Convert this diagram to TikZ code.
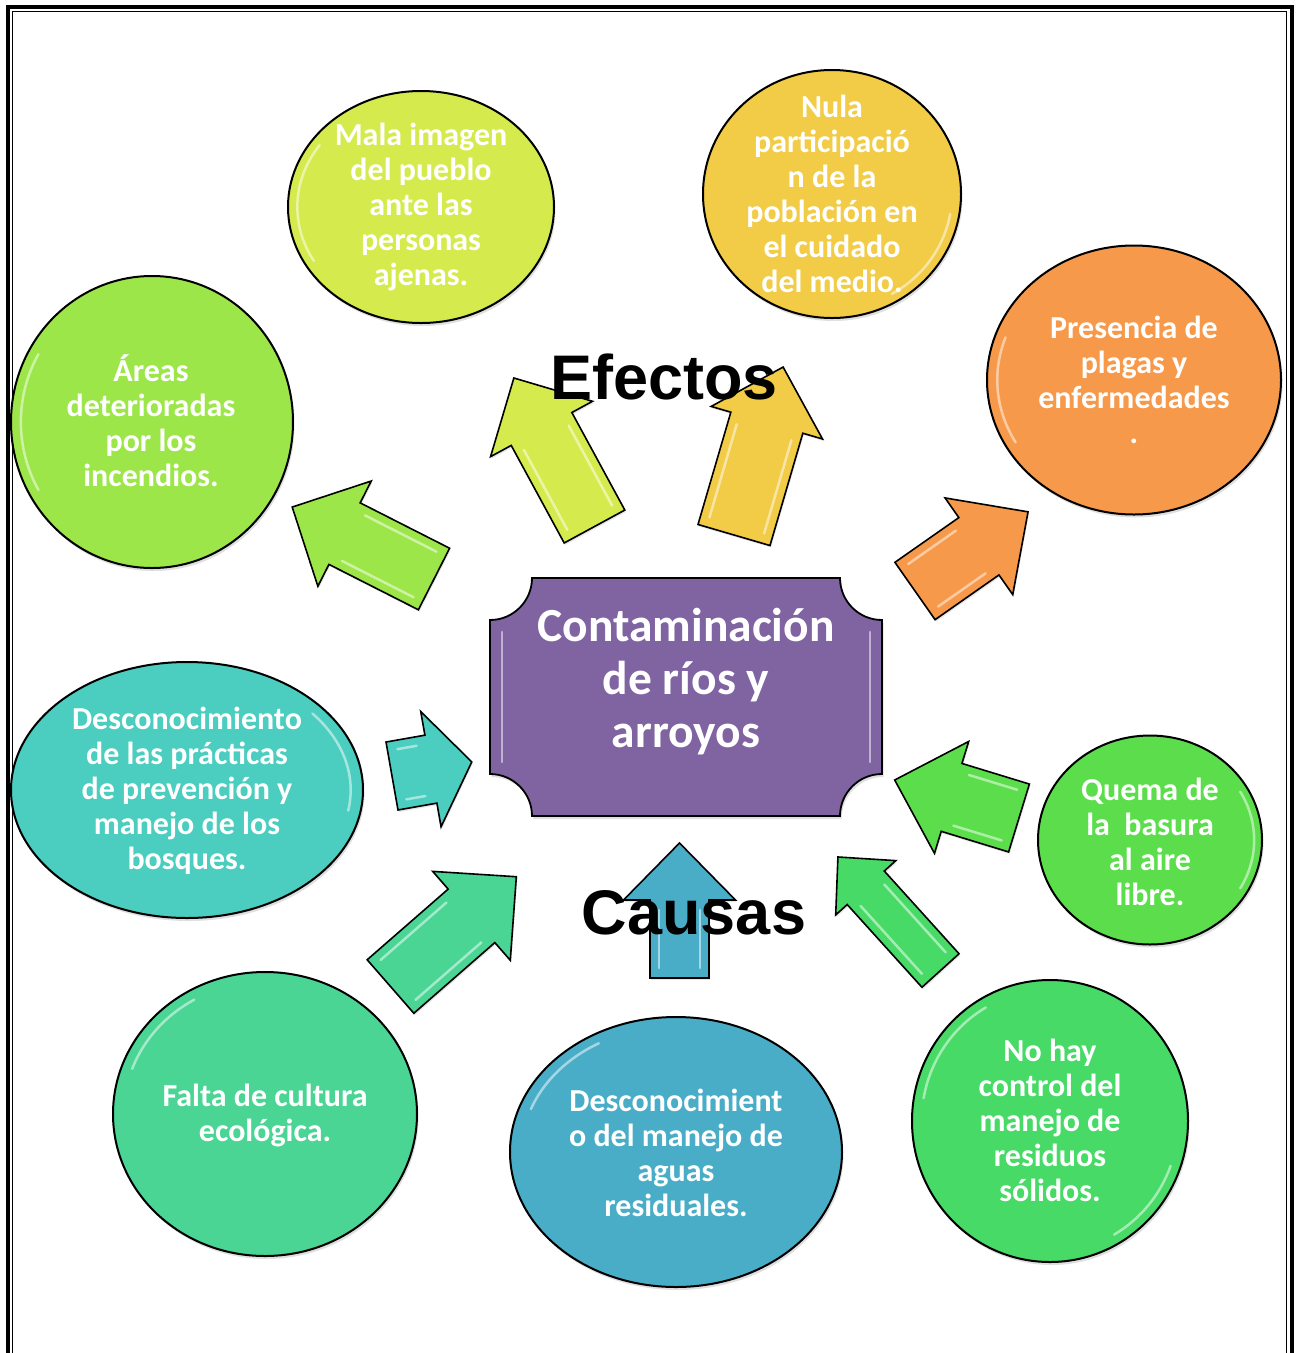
\documentclass[tikz,border=0pt]{standalone}
\usepackage{fontspec}
\setmainfont{Carlito}
\newfontfamily\titlefont{Liberation Sans}
\usetikzlibrary{shapes.geometric,shadows,calc}
\definecolor{cMala}{HTML}{D5EB4D}
\definecolor{cNula}{HTML}{F2CC47}
\definecolor{cAreas}{HTML}{9DE64A}
\definecolor{cPres}{HTML}{F7994A}
\definecolor{cDesc}{HTML}{4BCDBF}
\definecolor{cQuema}{HTML}{5CDE4C}
\definecolor{cFalta}{HTML}{4AD595}
\definecolor{cAguas}{HTML}{4AADC8}
\definecolor{cNoHay}{HTML}{47DA66}
\definecolor{cCentro}{HTML}{8064A2}
% block arrow: name, colour, tail x, tail y, angle, length, head half-width, shaft half-width, head length
\newcommand\blockarr[9]{%
  \begin{scope}[shift={(#3,#4)},rotate=#5]
    \filldraw[fill=#2,draw=black,line width=1.6pt,line join=miter,
      drop shadow={opacity=0.2,shadow xshift=1pt,shadow yshift=-2pt}]
      (0,-#8) -- ({#6-#9},-#8) -- ({#6-#9},-#7) -- (#6,0) -- ({#6-#9},#7) -- ({#6-#9},#8) -- (0,#8) -- cycle;
    \draw[glint] (10,{-#8+9}) -- ({#6-#9-10},{-#8+9});
    \draw[glint] (10,{#8-9}) -- ({#6-#9-10},{#8-9});
    \coordinate (#1-tail) at (0,0);
    \coordinate (#1-tip) at (#6,0);
  \end{scope}}
% glossy arc inside an ellipse: centre node, x radius, y radius, start, end
\newcommand\bubglint[5]{%
  \draw[glint] ($(#1.center)+({0.93*#2*cos(#4)},{0.93*#3*sin(#4)})$)
    arc[start angle=#4,end angle=#5,x radius={0.93*#2},y radius={0.93*#3}];}
\begin{document}
\begin{tikzpicture}[x=1pt,y=-1pt,
  glint/.style={white,opacity=0.5,line width=2.5pt,line cap=round},
  bubble/.style={ellipse,draw=black,line width=2pt,inner sep=0pt,
    drop shadow={opacity=0.25,shadow xshift=1.5pt,shadow yshift=-3pt}},
  btext/.style={text=white,font=\bfseries\fontsize{32}{35}\selectfont,align=center,inner sep=0pt},
  titletext/.style={font=\titlefont\bfseries\fontsize{63}{63}\selectfont,text=black,inner sep=0pt},
]
\useasboundingbox (0,0) rectangle (1300,1353);
\fill[white] (0,0) rectangle (1300,1353);
% frame
\draw[line width=4pt] (8,1353) -- (8,7) -- (1291.7,7) -- (1291.7,1353);
\draw[line width=1.3pt] (12.6,1353) -- (12.6,11.8) -- (1286.7,11.8) -- (1286.7,1353);

% bubbles
\node[bubble,fill=cMala,minimum width=266,minimum height=232] (e1) at (421,207) {};
\bubglint{e1}{133}{116}{150}{215}
\node[btext] (t1) at (e1.center) {Mala imagen\\del pueblo\\ante las\\personas\\ajenas.};
\node[bubble,fill=cNula,minimum width=258,minimum height=248] (e2) at (832,194) {};
\bubglint{e2}{129}{124}{10}{60}
\node[btext] (t2) at (e2.center) {Nula\\participació\\n de la\\población en\\el cuidado\\del medio.};
\node[bubble,fill=cAreas,minimum width=282,minimum height=292] (e3) at (152,422) {};
\bubglint{e3}{141}{146}{150}{210}
\node[btext] (t3) at (151,421) {Áreas\\deterioradas\\por los\\incendios.};
\node[bubble,fill=cPres,minimum width=294,minimum height=269] (e4) at (1134,380) {};
\bubglint{e4}{147}{134}{150}{200}
\node[btext] (t4) at (1134,380) {Presencia de\\plagas y\\enfermedades\\.};
\node[bubble,fill=cDesc,minimum width=352,minimum height=256] (e5) at (187,790) {};
\bubglint{e5}{176}{128}{-40}{10}
\node[btext] (t5) at (187,791) {Desconocimiento\\de las prácticas\\de prevención y\\manejo de los\\bosques.};
\node[bubble,fill=cQuema,minimum width=224,minimum height=209] (e6) at (1150,840) {};
\bubglint{e6}{112}{104}{-30}{30}
\node[btext] (t6) at (1150,842) {Quema de\\la~~basura\\al aire\\libre.};
\node[bubble,fill=cFalta,minimum width=304,minimum height=284] (e7) at (265,1114) {};
\bubglint{e7}{152}{142}{200}{240}
\node[btext] (t7) at (265,1115) {Falta de cultura\\ecológica.};
\node[bubble,fill=cAguas,minimum width=332,minimum height=270] (e8) at (676,1152) {};
\bubglint{e8}{166}{135}{200}{240}
\node[btext] (t8) at (676,1153) {Desconocimient\\o del manejo de\\aguas\\residuales.};
\node[bubble,fill=cNoHay,minimum width=276,minimum height=282] (e9) at (1050,1121) {};
\bubglint{e9}{138}{141}{190}{240}
\bubglint{e9}{138}{141}{20}{60}
\node[btext] (t9) at (1050,1120) {No hay\\control del\\manejo de\\residuos\\sólidos.};

% central box
\filldraw[fill=cCentro,draw=black,line width=1.8pt,
  drop shadow={opacity=0.25,shadow xshift=1.5pt,shadow yshift=-3pt}]
  (532,578) -- (840,578) arc[start angle=180,end angle=90,radius=42]
  -- (882,774) arc[start angle=270,end angle=180,radius=42]
  -- (532,816) arc[start angle=0,end angle=-90,radius=42]
  -- (490,620) arc[start angle=90,end angle=0,radius=42] -- cycle;
\draw[glint] (502,632) -- (502,762);
\draw[glint] (870,632) -- (870,762);
\node[text=white,font=\bfseries\fontsize{47.5}{53}\selectfont,align=center,inner sep=0pt] (c) at (686,682)
  {Contaminación\\de ríos y\\arroyos};

% arrows
\blockarr{a1}{cAreas}{434}{579}{153.1}{159}{59}{34.5}{58.7}
\blockarr{a2}{cMala}{594.5}{526.5}{118.5}{169}{58}{34.5}{58}
\blockarr{a3}{cNula}{734}{535}{73.7}{175}{58}{37.5}{58}
\blockarr{a4}{cPres}{915}{591}{35}{138}{59}{35}{60}
\blockarr{a5}{cQuema}{1019}{818}{163}{130}{58.5}{35.5}{59.5}
\blockarr{a6}{cDesc}{392}{776}{10}{81}{58.5}{34.5}{41.5}
\blockarr{a7}{cFalta}{390.5}{986.5}{41.1}{167}{59}{35.5}{59.5}
\blockarr{a8}{cAguas}{679.5}{978}{90}{135}{56}{29.5}{57}
\blockarr{a9}{cNoHay}{940.5}{970.5}{132.1}{153}{40.5}{25}{41.5}

% titles
\node[titletext] (ef) at (664,377) {Efectos};
\node[titletext] (ca) at (694,913) {Causas};
\end{tikzpicture}
\end{document}
